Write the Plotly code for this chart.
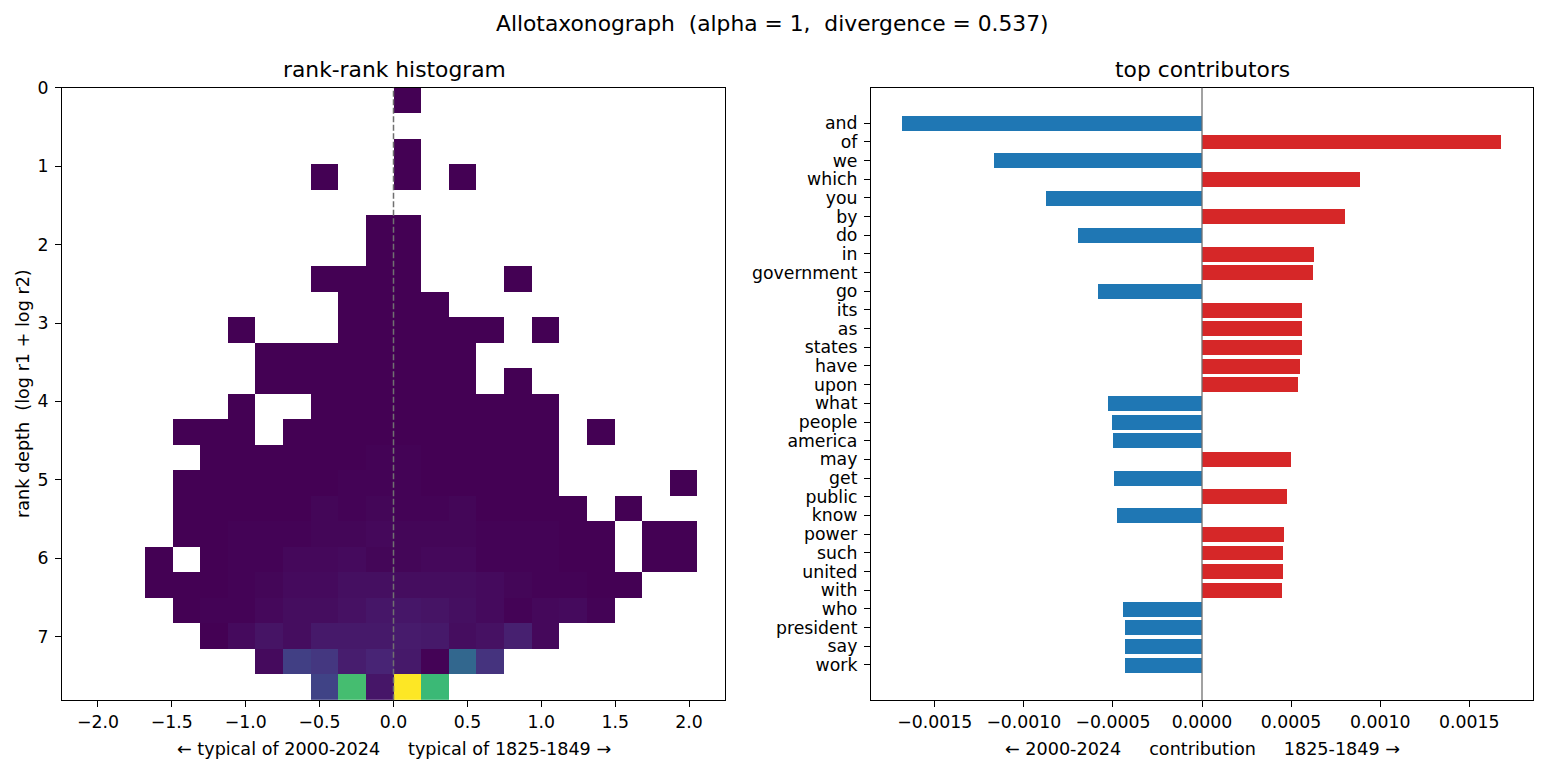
import numpy as np
import plotly.graph_objects as go

# ---------------- data ----------------
N = None
# rank-rank histogram counts: 24 depth rows (top -> bottom) x 24 balance columns (left -> right)
hist_counts = [
    [N, N, N, N, N, N, N, N, N, N, N, N, 1, N, N, N, N, N, N, N, N, N, N, N],
    [N, N, N, N, N, N, N, N, N, N, N, N, N, N, N, N, N, N, N, N, N, N, N, N],
    [N, N, N, N, N, N, N, N, N, N, N, N, 1, N, N, N, N, N, N, N, N, N, N, N],
    [N, N, N, N, N, N, N, N, N, 1, N, N, 1, N, 1, N, N, N, N, N, N, N, N, N],
    [N, N, N, N, N, N, N, N, N, N, N, N, N, N, N, N, N, N, N, N, N, N, N, N],
    [N, N, N, N, N, N, N, N, N, N, N, 1, 1, N, N, N, N, N, N, N, N, N, N, N],
    [N, N, N, N, N, N, N, N, N, N, N, 1, 1, N, N, N, N, N, N, N, N, N, N, N],
    [N, N, N, N, N, N, N, N, N, 1, 1, 1, 1, N, N, N, 1, N, N, N, N, N, N, N],
    [N, N, N, N, N, N, N, N, N, N, 1, 1, 1, 1, N, N, N, N, N, N, N, N, N, N],
    [N, N, N, N, N, N, 1, N, N, N, 1, 1, 1, 1, 1, 1, N, 1, N, N, N, N, N, N],
    [N, N, N, N, N, N, N, 1, 1, 1, 1, 1, 1, 1, 1, N, N, N, N, N, N, N, N, N],
    [N, N, N, N, N, N, N, 1, 1, 1, 1, 1, 1, 1, 1, N, 1, N, N, N, N, N, N, N],
    [N, N, N, N, N, N, 1, N, N, 1, 1, 1, 1, 1, 1, 1, 1, 1, N, N, N, N, N, N],
    [N, N, N, N, 1, 1, 1, N, 1, 1, 1, 1, 1, 1, 1, 1, 1, 1, N, 1, N, N, N, N],
    [N, N, N, N, N, 1, 1, 1, 1, 1, 1, 2, 2, 1, 1, 1, 1, 1, N, N, N, N, N, N],
    [N, N, N, N, 1, 1, 1, 1, 1, 1, 2, 2, 2, 1, 1, 1, 1, 1, N, N, N, N, 1, N],
    [N, N, N, N, 1, 1, 1, 1, 1, 3, 2, 3, 2, 2, 3, 1, 1, 1, 1, N, 1, N, N, N],
    [N, N, N, N, 1, 1, 2, 2, 2, 3, 3, 4, 3, 3, 3, 2, 2, 2, 1, 1, N, 1, 1, N],
    [N, N, N, 1, N, 1, 2, 2, 4, 4, 5, 3, 3, 4, 4, 2, 2, 2, 1, 1, N, 1, 1, N],
    [N, N, N, 1, 1, 1, 2, 3, 5, 5, 7, 7, 6, 6, 6, 5, 3, 2, 2, 1, 1, N, N, N],
    [N, N, N, N, 1, 2, 2, 4, 6, 6, 8, 10, 10, 9, 7, 5, 2, 4, 5, 2, N, N, N, N],
    [N, N, N, N, N, 1, 5, 9, 6, 11, 11, 11, 12, 11, 6, 8, 14, 4, N, N, N, N, N, N],
    [N, N, N, N, N, N, N, 5, 29, 25, 13, 16, 11, 2, 50, 23, N, N, N, N, N, N, N, N],
    [N, N, N, N, N, N, N, N, N, 31, 105, 10, 150, 102, N, N, N, N, N, N, N, N, N, N],
]
balance_limit = 2.243     # histogram spans -limit..+limit
depth_max = 7.81          # histogram spans 0..depth_max

words = ["and", "of", "we", "which", "you", "by", "do", "in", "government", "go",
         "its", "as", "states", "have", "upon", "what", "people", "america", "may", "get",
         "public", "know", "power", "such", "united", "with", "who", "president", "say", "work"]
contributions = [-0.001684, 0.001681, -0.001165, 0.000889, -0.000875, 0.000800, -0.000695,
                 0.000627, 0.000621, -0.000584, 0.000564, 0.000561, 0.000560, 0.000550,
                 0.000538, -0.000530, -0.000507, -0.000501, 0.000499, -0.000496, 0.000477,
                 -0.000475, 0.000459, 0.000453, 0.000452, 0.000447, -0.000446, -0.000433,
                 -0.000433, -0.000432]

x_ticks_left = [-2.0, -1.5, -1.0, -0.5, 0.0, 0.5, 1.0, 1.5, 2.0]
y_ticks_left = [0, 1, 2, 3, 4, 5, 6, 7]
x_ticks_right = [-0.0015, -0.0010, -0.0005, 0.0, 0.0005, 0.0010, 0.0015]

# ---------------- figure ----------------
W, H = 1545, 770
FONT = "DejaVu Sans"
TICK = 17.3
LABEL = 17.6
TITLE = 21.8

# the page is shown with an 8px top offset, the figure occupying the rest
TOP_OFF = 8
EFF_H = H - TOP_OFF

def fy(y_px):
    return 1 - (y_px - TOP_OFF) / EFF_H

nrows = len(hist_counts)
ncols = len(hist_counts[0])
x_edges = np.linspace(-balance_limit, balance_limit, ncols + 1)
y_edges = np.linspace(0, depth_max, nrows + 1)
x_centers = (x_edges[:-1] + x_edges[1:]) / 2
y_centers = (y_edges[:-1] + y_edges[1:]) / 2

vals = [v for row in hist_counts for v in row if v is not None]

fig = go.Figure()
fig.add_trace(go.Heatmap(
    x=x_centers, y=y_centers, z=hist_counts,
    colorscale="Viridis", zmin=min(vals), zmax=max(vals),
    showscale=False, xaxis="x", yaxis="y", hoverongaps=False,
))

cols = ["#d62728" if v > 0 else "#1f77b4" for v in contributions]
ypos = list(range(len(words)))
fig.add_trace(go.Bar(
    x=contributions, y=ypos, orientation="h", marker=dict(color=cols, line=dict(width=0)),
    width=0.8, xaxis="x2", yaxis="y2", showlegend=False,
))

def fmt(v, d):
    s = f"{abs(v):.{d}f}"
    return ("\u2212" + s) if v < 0 else s

axis_common = dict(showline=True, mirror=True, linecolor="black", linewidth=1.2,
                   ticks="outside", ticklen=6, tickwidth=1.2, tickcolor="black",
                   showgrid=False, zeroline=False,
                   tickfont=dict(family=FONT, size=TICK, color="black"))

L0, L1 = 62 / W, 725 / W
R0, R1 = 871 / W, 1533 / W
B0, B1 = fy(700), fy(86)

xmax_r = 0.001858
nw = len(words)
pad = 0.05 * (nw - 1 + 0.8)

fig.update_layout(
    width=W, height=H, margin=dict(l=0, r=0, t=0, b=0),
    paper_bgcolor="white", plot_bgcolor="white",
    font=dict(family=FONT, color="black"),
    showlegend=False,
    xaxis=dict(domain=[L0, L1], range=[-balance_limit, balance_limit], anchor="y",
               tickvals=x_ticks_left, ticktext=[fmt(v, 1) for v in x_ticks_left], **axis_common),
    yaxis=dict(domain=[B0, B1], range=[depth_max, 0], anchor="x", ticklabelstandoff=3,
               tickvals=y_ticks_left, ticktext=[str(v) for v in y_ticks_left], **axis_common),
    xaxis2=dict(domain=[R0, R1], range=[-xmax_r, xmax_r], anchor="y2",
                tickvals=x_ticks_right, ticktext=[fmt(v, 4) for v in x_ticks_right], **axis_common),
    yaxis2=dict(domain=[B0, B1], range=[nw - 1 + 0.4 + pad, -0.4 - pad], anchor="x2",
                ticklabelstandoff=3, tickvals=ypos, ticktext=words, **axis_common),
    bargap=0,
)

# dashed zero line on histogram, solid zero line on contributions
fig.add_shape(type="line", xref="x", yref="y domain", x0=0, x1=0, y0=0, y1=1,
              line=dict(color="#707070", width=1.5, dash="6px,2.5px"), layer="above")
fig.add_shape(type="line", xref="x2", yref="y2 domain", x0=0, x1=0, y0=0, y1=1,
              line=dict(color="#707070", width=1.3), layer="above")

def ann(text, x, y, size, angle=0):
    fig.add_annotation(text=text, x=x / W, y=fy(y), xref="paper", yref="paper",
                       showarrow=False, textangle=angle, xanchor="center", yanchor="middle",
                       font=dict(family=FONT, size=size, color="black"))

ann("Allotaxonograph\u00a0 (alpha = 1,\u00a0 divergence = 0.537)", 772, 22, TITLE)
ann("rank-rank histogram", 394, 68, TITLE)
ann("top contributors", 1202, 68, TITLE)
ann("\u2190 typical of 2000-2024\u00a0\u00a0\u00a0\u00a0 typical of 1825-1849 \u2192", 394, 749, LABEL)
ann("\u2190 2000-2024\u00a0\u00a0\u00a0\u00a0 contribution\u00a0\u00a0\u00a0\u00a0 1825-1849 \u2192", 1202, 749, LABEL)
ann("rank depth\u00a0 (log r1 + log r2)", 23, 393, LABEL, angle=-90)

fig.write_html("out.html")
